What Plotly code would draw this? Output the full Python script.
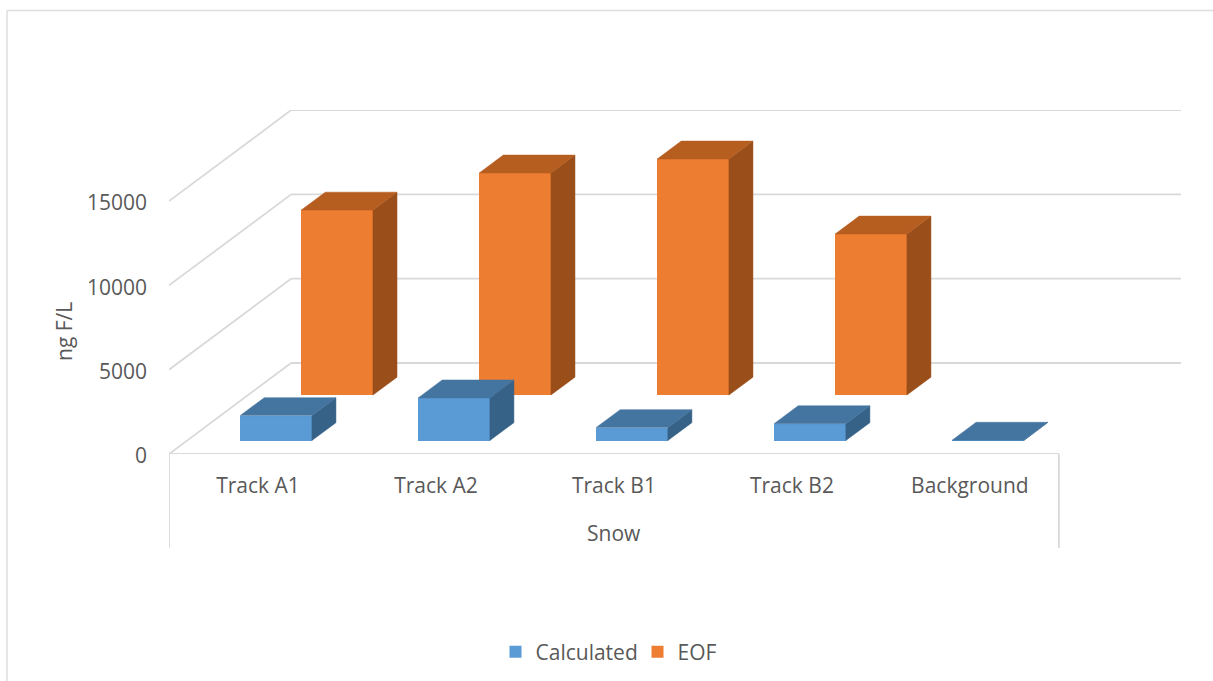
import plotly.graph_objects as go

categories = ["Track A1", "Track A2", "Track B1", "Track B2", "Background"]
calculated = [1480, 2530, 770, 1000, 20]
eof = [10970, 13170, 14000, 9550, 0]
y_ticks = [0, 5000, 10000, 15000]

W, H = 1213, 681
GRID = "#D9D9D9"
TEXT = "#595959"
FONT = "Open Sans"
FS = 21

# oblique projection: depth 0..1 moves a point right and up
SX = 122 / 177.8          # category units over the full floor depth
SY = 91 / 84.3 * 5000     # value units over the full floor depth
BAR_W = 0.403
CAL_D = (0.148, 0.148 + 24 / 122)
EOF_D = (0.648, 0.648 + 24 / 122)


def px(cat, val, d):
    return cat + SX * d, val + SY * d


def faces(values, depth):
    d0, d1 = depth
    sx, sy, tx, ty = [], [], [], []
    for i, v in enumerate(values):
        if v <= 0:
            continue
        l, r = i - BAR_W / 2, i + BAR_W / 2
        pts = [px(r, 0, d0), px(r, 0, d1), px(r, v, d1), px(r, v, d0), px(r, 0, d0)]
        sx += [p[0] for p in pts] + [None]
        sy += [p[1] for p in pts] + [None]
        pts = [px(l, v, d0), px(l, v, d1), px(r, v, d1), px(r, v, d0), px(l, v, d0)]
        tx += [p[0] for p in pts] + [None]
        ty += [p[1] for p in pts] + [None]
    return sx, sy, tx, ty


def front(name, values, depth, color):
    d0 = depth[0]
    return go.Bar(
        name=name,
        x=[px(i, 0, d0)[0] for i in range(len(values))],
        y=values,
        base=[px(0, 0, d0)[1]] * len(values),
        width=BAR_W,
        marker=dict(color=color, line=dict(width=0)),
        hoverinfo="skip",
    )


def poly(xs, ys, color):
    return go.Scatter(
        x=xs, y=ys, mode="lines", fill="toself", fillcolor=color,
        line=dict(width=0.5, color=color), showlegend=False, hoverinfo="skip",
    )


fig = go.Figure()
fig.add_trace(front("Calculated", calculated, CAL_D, "#5B9BD5"))
fig.add_trace(front("EOF", eof, EOF_D, "#ED7D31"))

ex, ey, etx, ety = faces(eof, EOF_D)
fig.add_trace(poly(ex, ey, "#9A4F1B"))
fig.add_trace(poly(etx, ety, "#B65D20"))
cx, cy, ctx, cty = faces(calculated, CAL_D)
fig.add_trace(poly(cx, cy, "#376288"))
fig.add_trace(poly(ctx, cty, "#4474A0"))

n = len(categories)
left, right = -0.5, n - 0.5
y_top = (454 - 110) / 84.3 * 5000
x_end = right + SX

shapes = []
line = dict(color=GRID, width=1.8)
for t in y_ticks:
    shapes.append(dict(type="line", xref="x", yref="y", layer="below",
                       x0=left, y0=t, x1=left + SX, y1=t + SY, line=line))
    shapes.append(dict(type="line", xref="x", yref="y", layer="below",
                       x0=left + SX, y0=t + SY, x1=x_end, y1=t + SY, line=line))
shapes.append(dict(type="line", xref="x", yref="y", layer="below",
                   x0=left, y0=0, x1=right, y1=0, line=dict(color=GRID, width=2)))
for xv in (left, right):
    shapes.append(dict(type="line", xref="x", yref="paper", layer="below",
                       x0=xv, x1=xv, y0=(H - 548) / H, y1=(H - 454) / H, line=line))

# chart frame, open at right and bottom as in the reference crop
for x0, y0, x1, y1 in [(7, 10.5, W, 10.5), (7, 10.5, 7, H)]:
    shapes.append(dict(type="line", xref="paper", yref="paper", layer="below",
                       x0=x0 / W, x1=x1 / W, y0=(H - y0) / H, y1=(H - y1) / H,
                       line=dict(color="#DEDEDE", width=1.5)))

annotations = [
    dict(text="Snow", xref="x", yref="paper", x=(n - 1) / 2, y=(H - 533) / H,
         yanchor="middle", showarrow=False, font=dict(family=FONT, size=FS, color=TEXT)),
    dict(text="ng F/L", xref="paper", yref="paper", x=64 / W, y=(H - 332) / H,
         xanchor="center", yanchor="middle",
         textangle=-90, showarrow=False, font=dict(family=FONT, size=FS, color=TEXT)),
]

fig.update_layout(
    width=W, height=H, autosize=False,
    margin=dict(l=0, r=0, t=0, b=0, pad=0, autoexpand=False),
    paper_bgcolor="white", plot_bgcolor="rgba(0,0,0,0)",
    barmode="overlay",
    bargap=0,
    font=dict(family=FONT, size=FS, color=TEXT),
    shapes=shapes, annotations=annotations,
    legend=dict(orientation="h", x=(606.5 + 31) / W, xanchor="center", y=(H - 652) / H, yanchor="middle",
                font=dict(family=FONT, size=FS, color=TEXT), traceorder="normal",
                itemwidth=30, bgcolor="rgba(0,0,0,0)", entrywidth=97, entrywidthmode="pixels"),
    xaxis=dict(domain=[169 / W, 1181 / W], range=[left, x_end], tickmode="array",
               tickvals=list(range(n)), ticktext=categories, showgrid=False, zeroline=False,
               showline=False, ticks="", ticklabelstandoff=17),
    yaxis=dict(domain=[(H - 454) / H, (H - 110) / H], range=[0, y_top], tickmode="array",
               tickvals=y_ticks, ticktext=[str(t) for t in y_ticks], showgrid=False,
               zeroline=False, showline=False, ticks="", ticklabelstandoff=21, ticklabelshift=2),
)

fig.write_html("out.html", config={"displayModeBar": False, "responsive": False},
               post_script="document.body.style.margin='0';document.documentElement.style.overflow='hidden';")
